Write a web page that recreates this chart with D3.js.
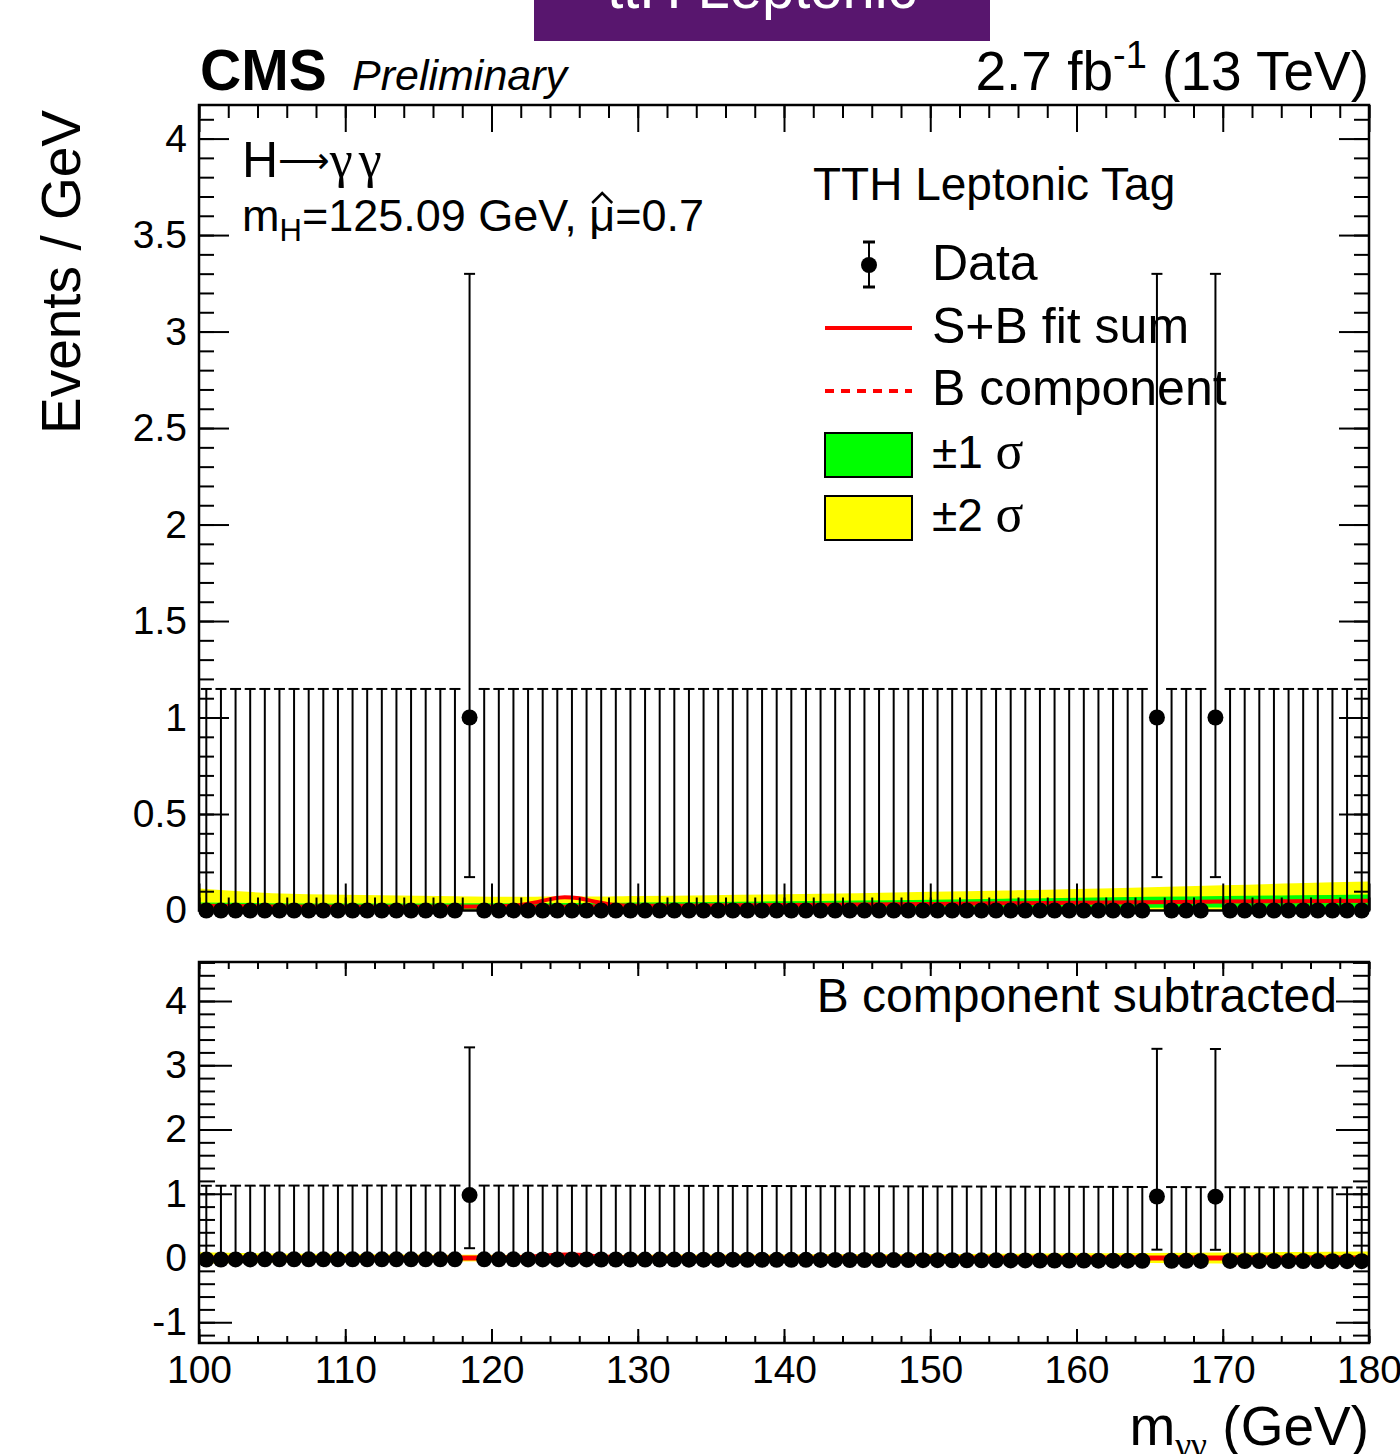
<!DOCTYPE html>
<html>
<head>
<meta charset="utf-8">
<script src="https://cdn.jsdelivr.net/npm/d3@7"></script>
<style>
body { margin: 0; background: #fff; }
text { font-family: "Liberation Sans", Arial, Helvetica, sans-serif; fill: #000; }
.serif { font-family: "Liberation Serif", "Times New Roman", serif; }
</style>
</head>
<body>
<div id="chart"></div>
<script>
// 1 GeV bins, 100 -> 180
var binLow = 100, binWidth = 1;
var counts = [0,0,0,0,0,0,0,0,0,0, 0,0,0,0,0,0,0,0,1,0,
              0,0,0,0,0,0,0,0,0,0, 0,0,0,0,0,0,0,0,0,0,
              0,0,0,0,0,0,0,0,0,0, 0,0,0,0,0,0,0,0,0,0,
              0,0,0,0,0,1,0,0,0,1, 0,0,0,0,0,0,0,0,0,0];
// poisson intervals, indexed by count
var errDown = [0, 0.827];
var errUp = [1.148, 2.299];

// fit curves (events / GeV)
var fitMass  = [100,105,110,115,120,121,122,123,124,125,126,127,128,129,130,135,140,145,150,155,160,165,170,175,180];
var bkgFit   = [0.024,0.021,0.020,0.020,0.021,0.021,0.021,0.022,0.022,0.022,0.022,0.023,0.023,0.023,0.024,0.026,0.028,0.031,0.034,0.037,0.040,0.043,0.046,0.048,0.050];
var sbFit    = [0.024,0.021,0.020,0.020,0.021,0.023,0.029,0.042,0.059,0.069,0.063,0.047,0.033,0.026,0.024,0.026,0.028,0.031,0.034,0.037,0.040,0.043,0.046,0.048,0.050];
var band1Up  = [0.042,0.038,0.036,0.036,0.037,0.037,0.038,0.038,0.038,0.039,0.039,0.039,0.040,0.040,0.041,0.044,0.048,0.052,0.056,0.061,0.066,0.071,0.075,0.079,0.083];
var band1Dn  = [0.006,0.004,0.004,0.004,0.005,0.005,0.005,0.005,0.006,0.006,0.006,0.006,0.006,0.007,0.007,0.008,0.009,0.010,0.011,0.012,0.013,0.014,0.015,0.016,0.017];
var band2Up  = [0.114,0.090,0.082,0.076,0.071,0.071,0.071,0.071,0.072,0.072,0.072,0.073,0.073,0.074,0.075,0.079,0.084,0.090,0.097,0.104,0.112,0.121,0.131,0.141,0.150];
var band2Dn  = [-0.066,-0.048,-0.042,-0.036,-0.029,-0.029,-0.028,-0.027,-0.027,-0.027,-0.027,-0.027,-0.027,-0.027,-0.027,-0.027,-0.028,-0.028,-0.029,-0.030,-0.032,-0.035,-0.039,-0.045,-0.050];

var xTicks = [100,110,120,130,140,150,160,170,180];
var yTicksMain = [0,0.5,1,1.5,2,2.5,3,3.5,4];
var yTicksSub = [-1,0,1,2,3,4];

var W = 1400, H = 1454;
var left = 199, right = 1369;

var svg = d3.select("#chart").append("svg")
    .attr("width", W).attr("height", H);

var x = d3.scaleLinear().domain([100, 180]).range([left, right]);
var yMain = d3.scaleLinear().domain([0, 4.174]).range([910.5, 105]);
var ySub = d3.scaleLinear().domain([-1.323, 4.607]).range([1343, 962]);

var bkgAt = d3.scaleLinear().domain(fitMass).range(bkgFit);

var bins = counts.map(function (c, i) {
    return { m: binLow + (i + 0.5) * binWidth, n: c };
});

function clip(id, y) {
    svg.append("clipPath").attr("id", id).append("rect")
        .attr("x", left).attr("y", y.range()[1])
        .attr("width", right - left).attr("height", y.range()[0] - y.range()[1]);
}
clip("clipMain", yMain);
clip("clipSub", ySub);

function bandArea(y, lo, hi, shift) {
    return d3.area().curve(d3.curveMonotoneX)
        .x(function (d, i) { return x(fitMass[i]); })
        .y0(function (d, i) { return y(lo[i] - (shift ? bkgFit[i] : 0)); })
        .y1(function (d, i) { return y(hi[i] - (shift ? bkgFit[i] : 0)); });
}
function fitLine(y, vals, shift) {
    return d3.line().curve(d3.curveMonotoneX)
        .x(function (d, i) { return x(fitMass[i]); })
        .y(function (d, i) { return y(vals[i] - (shift ? bkgFit[i] : 0)); });
}

function drawPanel(y, clipId, shift) {
    var g = svg.append("g").attr("clip-path", "url(#" + clipId + ")");
    g.append("path").datum(fitMass).attr("d", bandArea(y, band2Dn, band2Up, shift)).attr("fill", "#ffff00");
    g.append("path").datum(fitMass).attr("d", bandArea(y, band1Dn, band1Up, shift)).attr("fill", "#00ff00");
    if (!shift) {
        g.append("path").datum(fitMass).attr("d", fitLine(y, bkgFit, false))
            .attr("fill", "none").attr("stroke", "#ff0000").attr("stroke-width", 3).attr("stroke-dasharray", "8,7");
    }
    g.append("path").datum(fitMass).attr("d", fitLine(y, sbFit, shift))
        .attr("fill", "none").attr("stroke", "#ff0000").attr("stroke-width", shift ? 5 : 4);

    // data points with error bars
    var pts = svg.append("g");
    bins.forEach(function (b) {
        var v = b.n - (shift ? bkgAt(b.m) : 0);
        var cx = x(b.m);
        var yTop = y(v + errUp[b.n]), yBot = y(v - errDown[b.n]);
        pts.append("line").attr("x1", cx).attr("x2", cx).attr("y1", yTop).attr("y2", yBot)
            .attr("stroke", "#000").attr("stroke-width", 2);
        pts.append("line").attr("x1", cx - 5.5).attr("x2", cx + 5.5).attr("y1", yTop).attr("y2", yTop)
            .attr("stroke", "#000").attr("stroke-width", 2);
        if (errDown[b.n] > 0) {
            pts.append("line").attr("x1", cx - 5.5).attr("x2", cx + 5.5).attr("y1", yBot).attr("y2", yBot)
                .attr("stroke", "#000").attr("stroke-width", 2);
        }
    });
    pts.selectAll("circle").data(bins).enter().append("circle")
        .attr("cx", function (b) { return x(b.m); })
        .attr("cy", function (b) { return y(b.n - (shift ? bkgAt(b.m) : 0)); })
        .attr("r", 8).attr("fill", "#000");
}

function drawAxes(y, yTicks, yMinor, yFmt, tickY, tickX, showXLabels) {
    var top = y.range()[1], bot = y.range()[0];
    var xMinor = d3.range(100, 181, 2);
    function style(g) {
        g.select(".domain").remove();
        g.selectAll("line").attr("stroke", "#000").attr("stroke-width", 2);
        g.selectAll("text").style("font-size", "39px").style("font-family", "Liberation Sans, Arial, sans-serif");
    }
    // left
    svg.append("g").attr("transform", "translate(" + left + ",0)")
        .call(d3.axisLeft(y).tickValues(yMinor).tickSize(-tickY[1]).tickFormat("")).call(style);
    svg.append("g").attr("transform", "translate(" + left + ",0)")
        .call(d3.axisLeft(y).tickValues(yTicks).tickSize(-tickY[0]).tickPadding(12).tickFormat(yFmt)).call(style);
    // right
    svg.append("g").attr("transform", "translate(" + right + ",0)")
        .call(d3.axisRight(y).tickValues(yMinor).tickSize(-tickY[1]).tickFormat("")).call(style);
    svg.append("g").attr("transform", "translate(" + right + ",0)")
        .call(d3.axisRight(y).tickValues(yTicks).tickSize(-tickY[0]).tickFormat("")).call(style);
    // bottom
    svg.append("g").attr("transform", "translate(0," + bot + ")")
        .call(d3.axisBottom(x).tickValues(xMinor).tickSize(-tickX[1]).tickFormat("")).call(style);
    var bx = svg.append("g").attr("transform", "translate(0," + bot + ")")
        .call(d3.axisBottom(x).tickValues(xTicks).tickSize(-tickX[0]).tickPadding(12)
            .tickFormat(showXLabels ? function (d) { return String(d); } : "")).call(style);
    bx.selectAll("text").attr("dy", "0.72em");
    // top
    svg.append("g").attr("transform", "translate(0," + top + ")")
        .call(d3.axisTop(x).tickValues(xMinor).tickSize(-tickX[1]).tickFormat("")).call(style);
    svg.append("g").attr("transform", "translate(0," + top + ")")
        .call(d3.axisTop(x).tickValues(xTicks).tickSize(-tickX[0]).tickFormat("")).call(style);
    // frame
    svg.append("rect").attr("x", left).attr("y", top).attr("width", right - left).attr("height", bot - top)
        .attr("fill", "none").attr("stroke", "#000").attr("stroke-width", 2.5);
}

drawPanel(yMain, "clipMain", false);
drawPanel(ySub, "clipSub", true);

// plain hyphen minus like ROOT labels
var plainFmt = function (d) { return String(d); };
drawAxes(yMain, yTicksMain, d3.range(0, 4.15, 0.1), plainFmt, [30, 15], [27, 13], false);
drawAxes(ySub, yTicksSub, d3.range(-1.2, 4.65, 0.2), plainFmt, [33, 16], [14, 7], true);

// banner
svg.append("rect").attr("x", 534).attr("y", 0).attr("width", 456).attr("height", 41).attr("fill", "#58166e");
svg.append("text").attr("x", 762).attr("y", 8).attr("text-anchor", "middle")
    .style("font-size", "58px").style("fill", "#fff").text("ttH Leptonic");

// header
svg.append("text").attr("x", 200).attr("y", 90).style("font-size", "57px").style("font-weight", "bold").text("CMS");
svg.append("text").attr("x", 352).attr("y", 90).style("font-size", "43px").style("font-style", "italic").text("Preliminary");
var lumi = svg.append("text").attr("x", 1369).attr("y", 90).attr("text-anchor", "end").style("font-size", "55px");
lumi.append("tspan").text("2.7 fb");
lumi.append("tspan").attr("dy", -22).style("font-size", "38px").text("-1");
lumi.append("tspan").attr("dy", 22).text(" (13 TeV)");

// physics labels
var hgg = svg.append("text").attr("x", 242).attr("y", 177).style("font-size", "50px");
hgg.append("tspan").text("H");
hgg.append("tspan").style("font-family", "DejaVu Sans").style("font-size", "36px").attr("dy", -4).text("⟶");
hgg.append("tspan").attr("class", "serif").attr("dy", 4).style("font-size", "52px")
    .style("letter-spacing", "6px").text("γγ");

var mh = svg.append("text").attr("x", 242).attr("y", 231).style("font-size", "45px");
mh.append("tspan").text("m");
mh.append("tspan").attr("dy", 10).style("font-size", "31px").text("H");
mh.append("tspan").attr("dy", -10).text("=125.09 GeV, ");
mh.append("tspan").text("μ");
mh.append("tspan").text("=0.7");
// hat over mu
var muBox = mh.node().getExtentOfChar(15);
var muC = muBox.x + muBox.width / 2;
svg.append("path")
    .attr("d", "M" + (muC - 10) + ",203 L" + muC + ",193 L" + (muC + 10) + ",203")
    .attr("fill", "none").attr("stroke", "#000").attr("stroke-width", 2.5);

// legend
svg.append("text").attr("x", 813).attr("y", 200).style("font-size", "46px").text("TTH Leptonic Tag");
var lg = svg.append("g");
lg.append("line").attr("x1", 869).attr("x2", 869).attr("y1", 242).attr("y2", 287).attr("stroke", "#000").attr("stroke-width", 2);
[242, 287].forEach(function (yy) {
    lg.append("line").attr("x1", 863).attr("x2", 875).attr("y1", yy).attr("y2", yy).attr("stroke", "#000").attr("stroke-width", 3);
});
lg.append("circle").attr("cx", 869).attr("cy", 265).attr("r", 8).attr("fill", "#000");
lg.append("line").attr("x1", 825).attr("x2", 912).attr("y1", 328).attr("y2", 328).attr("stroke", "#ff0000").attr("stroke-width", 4);
lg.append("line").attr("x1", 825).attr("x2", 912).attr("y1", 391).attr("y2", 391).attr("stroke", "#ff0000").attr("stroke-width", 4).attr("stroke-dasharray", "9,7");
lg.append("rect").attr("x", 825).attr("y", 433).attr("width", 87).attr("height", 44).attr("fill", "#00ff00").attr("stroke", "#000").attr("stroke-width", 2);
lg.append("rect").attr("x", 825).attr("y", 496).attr("width", 87).attr("height", 44).attr("fill", "#ffff00").attr("stroke", "#000").attr("stroke-width", 2);
var legText = [["Data", 280], ["S+B fit sum", 343], ["B component", 405]];
legText.forEach(function (t) {
    lg.append("text").attr("x", 932).attr("y", t[1]).style("font-size", "50px").text(t[0]);
});
[["±1 ", 468], ["±2 ", 531]].forEach(function (t) {
    var tx = lg.append("text").attr("x", 932).attr("y", t[1]).style("font-size", "46px");
    tx.append("tspan").text(t[0]);
    tx.append("tspan").attr("class", "serif").style("font-size", "52px").text("σ");
});

svg.append("text").attr("x", 1337).attr("y", 1012).attr("text-anchor", "end").style("font-size", "48px").text("B component subtracted");

// axis titles
svg.append("text").attr("transform", "translate(80,110) rotate(-90)").attr("text-anchor", "end")
    .style("font-size", "55px").text("Events / GeV");
var xt = svg.append("text").attr("x", 1369).attr("y", 1445).attr("text-anchor", "end").style("font-size", "55px");
xt.append("tspan").text("m");
xt.append("tspan").attr("class", "serif").attr("dy", 12).style("font-size", "36px").text("γγ");
xt.append("tspan").attr("dy", -12).text(" (GeV)");
</script>
</body>
</html>
